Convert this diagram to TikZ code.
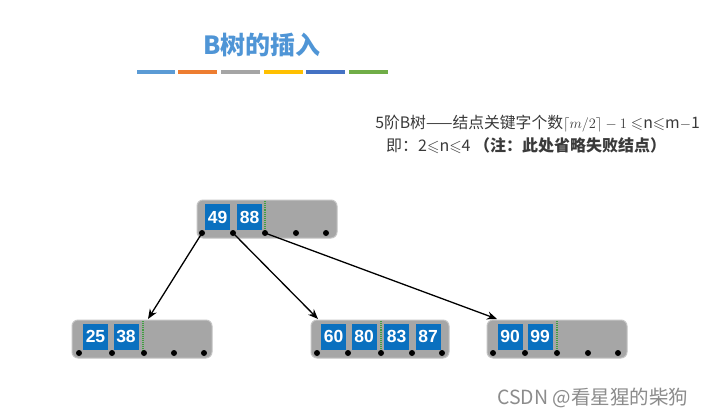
\documentclass[tikz,border=0pt]{standalone}
\usepackage{fontspec}
\usepackage{amssymb}
\setmainfont{Liberation Sans}
\newfontfamily\cjk{Noto Sans CJK SC}
\usetikzlibrary{arrows.meta,calc}
\definecolor{titleblue}{HTML}{4F95D6}
\definecolor{barA}{HTML}{5B9BD5}
\definecolor{barB}{HTML}{ED7D31}
\definecolor{barC}{HTML}{A5A5A5}
\definecolor{barD}{HTML}{FFC000}
\definecolor{barE}{HTML}{4472C4}
\definecolor{barF}{HTML}{70AD47}
\definecolor{boxgray}{HTML}{A6A6A6}
\definecolor{boxedge}{HTML}{C4C4C4}
\definecolor{keyblue}{HTML}{0A70BF}
\definecolor{sepgreen}{HTML}{3FA03F}
\definecolor{textgray}{HTML}{3A3A3A}
\definecolor{markgray}{HTML}{8C8C8C}
\begin{document}
\begin{tikzpicture}[x=1pt,y=-1pt,
  nodebox/.style={draw=boxedge, line width=1pt, fill=boxgray, rounded corners=6pt, minimum height=38pt, inner sep=0pt},
  keybox/.style={fill=keyblue, text=white, minimum width=25pt, minimum height=26pt, inner sep=0pt, font=\bfseries\fontsize{17.5}{17.5}\selectfont},
  ptr/.style={circle, fill=black, inner sep=0pt, minimum size=6pt},
  sepline/.style={draw=sepgreen, densely dotted, line width=1.1pt},
  link/.style={-{Stealth[length=10pt,width=8pt]}, line width=1.3pt, black}
]
\useasboundingbox (0,0) rectangle (703,416);
\fill[white] (0,0) rectangle (703,416);

% title
\node[font=\cjk\bfseries\fontsize{25}{25}\selectfont, text=titleblue] (title) at (262,45) {B树的插入};
\fill[barA] (137,70) rectangle (175,73.5);
\fill[barB] (178,70) rectangle (217,73.5);
\fill[barC] (221,70) rectangle (260,73.5);
\fill[barD] (264,70) rectangle (303,73.5);
\fill[barE] (306,70) rectangle (345,73.5);
\fill[barF] (349,70) rectangle (388,73.5);

% notes
\node[anchor=east, inner sep=0pt, text=textgray, font=\cjk\fontsize{15.8}{15.8}\selectfont] (line1) at (700,124)
  {5阶B树——结点关键字个数$\lceil m/2\rceil - 1\leqslant$n$\leqslant$m$-$1};
\node[anchor=west, inner sep=0pt, text=textgray, font=\cjk\fontsize{16}{16}\selectfont] (line2) at (386,146)
  {即：2$\leqslant$n$\leqslant$4 \textbf{（注：此处省略失败结点）}};

% root
\node[nodebox, minimum width=140pt] (root) at (267,219) {};
\node[keybox] (k49) at (217.5,217) {49};
\node[keybox] (k88) at (249.5,217) {88};
\coordinate (rs1) at (265,201);
\coordinate (rs2) at (265,233);
\draw[sepline] (rs1) -- (rs2);
\foreach \i/\x in {1/202,2/233,3/265,4/296,5/326}
  \node[ptr] (r\i) at (\x,233) {};

% left child
\node[nodebox, minimum width=140pt] (left) at (142,339) {};
\node[keybox] (k25) at (95.5,336.5) {25};
\node[keybox] (k38) at (126,336.5) {38};
\coordinate (ls1) at (143,321);
\coordinate (ls2) at (143,353);
\draw[sepline] (ls1) -- (ls2);
\foreach \i/\x in {1/79,2/112,3/144,4/174,5/204}
  \node[ptr] (l\i) at (\x,353) {};

% middle child
\node[nodebox, minimum width=138pt] (mid) at (380,339) {};
\node[keybox] (k60) at (333.5,336.5) {60};
\node[keybox] (k80) at (364,336.5) {80};
\node[keybox] (k83) at (396.5,336.5) {83};
\node[keybox] (k87) at (428,336.5) {87};
\coordinate (ms1) at (381,321);
\coordinate (ms2) at (381,353);
\draw[sepline] (ms1) -- (ms2);
\foreach \i/\x in {1/317,2/348,3/381,4/412,5/442}
  \node[ptr] (m\i) at (\x,353) {};

% right child
\node[nodebox, minimum width=140pt] (right) at (557,339) {};
\node[keybox] (k90) at (510,336.5) {90};
\node[keybox] (k99) at (540,336.5) {99};
\coordinate (qs1) at (557,321);
\coordinate (qs2) at (557,353);
\draw[sepline] (qs1) -- (qs2);
\foreach \i/\x in {1/493,2/525,3/557,4/588,5/618}
  \node[ptr] (q\i) at (\x,353) {};

% pointers
\coordinate (a1) at (148,319);
\coordinate (a2) at (318,319);
\coordinate (a3) at (497,319);
\draw[link] (r1.center) -- (a1);
\draw[link] (r2.center) -- (a2);
\draw[link] (r3.center) -- (a3);

% watermark
\node[anchor=west, inner sep=0pt, text=markgray, font=\cjk\fontsize{19.5}{19.5}\selectfont] (mark) at (497,398) {CSDN @看星猩的柴狗};
\end{tikzpicture}
\end{document}
